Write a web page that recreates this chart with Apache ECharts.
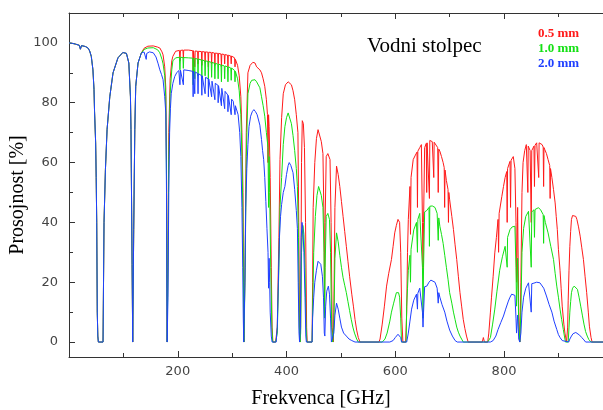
<!DOCTYPE html>
<html><head><meta charset="utf-8">
<script src="https://cdn.jsdelivr.net/npm/echarts@6/dist/echarts.min.js"></script>
<style>html,body{margin:0;padding:0;background:#fff}#c{width:603px;height:410px}</style>
</head><body><div id="c"></div>
<script>
// tick labels
const xTickLabels = [200, 400, 600, 800];
const xMinorTicks = [100, 300, 500, 700, 900];
const yTickLabels = [0, 20, 40, 60, 80, 100];
const yMinorTicks = [10, 30, 50, 70, 90];
const seriesNames = ['0.5 mm', '1.0 mm', '2.0 mm'];

// [frequency GHz, transmission %] shared by all three columns below ~133 GHz
const lowBand = [[0,100],[5,99.9],[12,99.6],[19,99.2],[21,97.9],[23,99.1],[30,98.8],[35,98.3],[38,97.3],[41,95.5],[44,91],[46,84.4],[47,77],[49,66.6],[50,55],[51,40],[52,10],[53,2],[54,0],[62.6,0],[63.5,20],[64.4,40],[67,57.7],[70,71],[75,82],[81,90],[90,95],[99,96.8],[105.6,96.5],[110,93.3],[113,82],[114,71],[116,26],[117.2,0],[117.8,0],[119,37.6],[121,71],[122.7,85.5],[127,93.3],[133,96.6]];

const red05 = [[138,98.2],[145,98.9],[155,99],[163,98.6],[167,98.3],[171,97],[173,96],[176,92],[178,85],[179.3,60],[180,20],[180.5,0],[181.2,0],[182,30],[183.5,70],[186,88],[189,94],[191,95.5],[196,97.2],[203,97.5],[204,94],[205,97.5],[209.5,97.6],[210.3,95],[211,97.6],[220,97.6],[227.5,97.4],[228.3,90],[229,97.4],[230.5,97.3],[231.3,92],[232,97.3],[236.5,97.2],[237.3,93],[238,97.2],[243.5,97.1],[244.3,92.5],[245,97.1],[249.5,97],[250.3,93.5],[251,97],[255.5,96.9],[256.3,92],[257,96.9],[261.5,96.8],[262.3,93],[263,96.8],[267.5,96.6],[268.3,92.5],[269,96.6],[273.5,96.5],[274.3,93],[275,96.5],[279.5,96.3],[280.3,92],[281,96.3],[285.5,96.1],[286.3,93],[287,96.1],[291.5,95.9],[292.3,92],[293,95.9],[297.5,95.6],[298.3,93],[299,95.6],[304.5,95],[305.3,92],[306,94.5],[310,92.5],[313,89],[316,82],[318,70],[320,50],[321,20],[321.8,0],[322.8,0],[324,30],[326,70],[329,90],[333,92.5],[338,93.5],[342,93.3],[345,92],[348,92],[351,91],[354,90],[357,88],[360,85.5],[363,81],[365,76],[366,60],[367,76],[368,72],[370,55],[372,25],[373.5,5],[375,0],[380,0],[383,5],[386,35],[388,61],[391,75],[394,83],[398,86],[403,87],[406,86.6],[409,86],[412,84],[415,81],[418,76],[421,70],[422.5,40],[424,5],[425,0],[426,5],[427.6,60],[429,74],[431,73],[433,65],[435,40],[437,5],[438,0],[447,0],[448,20],[449,45],[452,60],[455,68],[458,71],[461,71],[464,67],[467,63],[469,40],[470,10],[471,40],[473,62],[476,63],[480,61],[482,40],[484,5],[486,0],[487,10],[489,45],[492,58.8],[495,56],[498,52],[501,47],[504,42],[507,37],[510,32],[513,27],[516,22],[520,16],[523,12],[526,7.5],[529,4],[532,1.5],[535,0],[570,0],[572,1],[576,6],[580,12],[584,18.7],[588,23],[593,27.6],[596,32],[599,36.5],[602,39],[605,41],[608,40],[610,30],[612,8],[614,0],[619,0],[621,10],[622.5,30],[624,41],[627,52],[628,36],[629,55],[633,61],[637,62.5],[640,63.5],[640.8,45],[641.5,63.8],[645,65],[648,66],[650,40],[651,24],[652,40],[654,65],[657,66.4],[657.8,50],[658.5,66.6],[662,67.2],[662.8,48],[663.5,67.4],[668,67],[670,66.9],[670.8,55],[671.5,66.8],[675,66.2],[678,65],[679,50],[680,64.5],[682,63.8],[685,62],[688,60],[690,58.3],[690.8,45],[691.5,57.5],[694,54],[697,51],[697.8,40],[698.5,50],[700,47.6],[704,42],[707,37.6],[710,32.5],[713,27.6],[716,22],[719,16.5],[722,12],[725,7.6],[728,4.5],[731,2],[734,0],[760,0],[762,1.5],[764,0],[770,0],[772,3],[775,10],[777,15],[780,22],[783,29.8],[786,35],[789,41],[790,30],[791,43],[796,48.7],[799,52],[802,55],[805,57],[805.8,40],[806.5,58],[811,60.4],[812,45],[813,60.8],[817,62],[820,58],[822,40],[823,20],[825,45],[827,10],[829,0],[831,20],[833,50],[835,60],[838,64],[841,66],[843,65.8],[843.8,50],[844.5,65.5],[848,64],[850,40],[851,64],[855,65.5],[856,52],[857,65.8],[860,66.6],[863,66.6],[863.8,55],[864.5,66.6],[866,66.6],[870,66],[872,65.2],[872.8,52],[873.5,65],[875,64.3],[878,63],[881,61],[884,59],[884.8,48],[885.5,58],[888,55],[891,51],[894,46.5],[896,42],[898,37.6],[900,31],[903,24],[905,18],[907,12],[910,6],[912,3],[914,1],[915,0],[916,0],[917,5],[918,14],[919.5,24],[921,32],[922.5,37],[924,41],[926,42.3],[929,42.6],[932,42],[934,41],[937,38.5],[940,35.4],[943,31.5],[946,27.6],[949,22],[952,16.5],[955,10],[957,5.3],[960,1.5],[962,0],[982,0]];

const green10 = [[138,97.8],[145,98.3],[155,98.4],[163,97.7],[167,96.7],[171,94.5],[173,93],[176,89],[178,82],[179.3,55],[180,18],[180.5,0],[181.2,0],[182,25],[183.5,62],[186,83],[189,91],[191,94],[196,95],[203,95.2],[204,91],[205,95.2],[209.5,95.1],[210.3,91.5],[211,95.1],[220,95],[227.5,94.9],[228.3,86],[229,94.9],[230.5,94.8],[231.3,88],[232,94.8],[236.5,94.6],[237.3,89],[238,94.6],[243.5,94.3],[244.3,88.5],[245,94.3],[249.5,94],[250.3,89],[251,94],[255.5,93.8],[256.3,88],[257,93.8],[261.5,93.5],[262.3,88.5],[263,93.5],[267.5,93.2],[268.3,88],[269,93.2],[273.5,92.9],[274.3,88],[275,92.9],[279.5,92.6],[280.3,87],[281,92.6],[285.5,92.3],[286.3,88],[287,92.3],[291.5,92],[292.3,87],[293,92],[297.5,91.6],[298.3,87.5],[299,91.6],[304.5,90.8],[305.3,87],[306,90.5],[310,88],[313,84],[316,76],[318,62],[320,40],[321,15],[321.8,0],[322.8,0],[324,25],[326,62],[329,83],[333,86.5],[336,87.5],[339,88],[342,87.7],[345,87],[348,86.6],[351,85],[354,82],[357,79],[360,75.5],[363,70],[366,65],[367,45],[368,62],[369,50],[371,25],[373,5],[374.5,0],[380,0],[383,3],[386,25],[388,45],[391,55],[394,66],[397,72],[400,75],[403,76.6],[406,76],[409,73],[412,69],[415,64],[418,58],[420,52],[422,35],[423.5,5],[425,0],[426,3],[427.6,30],[430,39],[432,36],[434,25],[436,5],[437.5,0],[447,0],[448.5,15],[450,30],[453,42],[456,49],[459,52],[462,51.5],[464,49],[467,45],[469,30],[470,8],[471,25],[473,42],[476,43],[479,41],[481,30],[483,5],[485,0],[487,5],[489,28],[492,36.5],[495,33.5],[498,29],[501,25],[504,21.5],[507,19],[510,16.5],[513,13.5],[516,10.5],[519,7.6],[522,5],[525,3],[529,1],[532,0],[576,0],[581,1],[585,3],[590,7],[593,10],[597,13],[602,16.5],[606,16.5],[608,15],[610,8],[611.5,0],[620,0],[621,12],[622.5,18],[624,24],[627,29],[628,20],[629,31],[634,37.5],[639,40],[640.8,30],[641.5,41],[645,43],[648,43.5],[650,25],[651,8],[652,25],[654,43.5],[658,44],[662,45],[662.8,32],[663.5,45.4],[668,45.5],[673,45],[677,43],[679,34],[680,41.5],[682,38.7],[685,36],[688,33],[691,29],[694,25],[697,21],[700,16.5],[704,13],[707,10],[710,7.5],[713,5],[716,3.3],[719,2],[722,1],[725,0],[770,0],[775,1.5],[779,6],[783,11],[787,17],[792,24],[797,28.5],[802,32],[805.8,25],[806.5,35],[811,37.6],[815,38.5],[820,38.7],[822,25],[823,12],[825,28],[827,6],[829,0],[831,10],[833,30],[836,38],[840,42],[845,43.7],[848,43.5],[850,25],[851,43.5],[855,44.2],[856,35],[857,44.3],[860,44.8],[863,44.9],[867,44.3],[872,42.6],[872.8,33],[873.5,42.3],[876,40],[881,36.5],[886,32],[891,27.6],[894,23],[897,18.7],[900,15],[903,11],[906,7.5],[909,4.2],[911,2],[913,0],[918,0],[919.5,5],[921,10],[922.5,13.5],[924,16.5],[926,18],[929,18.7],[932,18.5],[935,17.6],[938,15],[941,12],[944,9],[947,6],[950,3.5],[953,2],[956,0.8],[960,0],[982,0]];

const blue20 = [[138,97],[141,96.5],[142,94.5],[143,96.5],[148,97],[155,96.7],[160,95.3],[164,93],[167,91],[170,89.5],[173,87.7],[176,82],[178,76.6],[179.3,50],[180,12],[180.5,0],[181.2,0],[182,15],[183.5,50],[185,70],[186.5,78],[188,83],[191,86.5],[194.5,88.8],[198,90],[202,90.8],[204,86],[205,90.9],[208,91],[210.3,86],[211,91],[213,91],[219,90.8],[227.5,90.5],[228.3,82],[229,90.5],[231.3,83],[232,90.3],[236.5,89.8],[237.3,83],[238,89.7],[243.5,89.1],[244.3,82.5],[245,89],[247,88.8],[250.3,83],[251,88.5],[256,88],[256.3,82],[257,87.9],[262.3,82],[263,87.2],[265,87],[268.3,81],[269,86.5],[274,85.8],[274.3,80],[275,85.7],[280.3,79],[281,84.8],[283,84.4],[286.3,78],[287,83.8],[292,82.6],[292.3,77],[293,82.4],[298.3,76],[299,81.2],[302,80.5],[305.3,76],[306,79],[311,76],[314,70],[316,62],[318,45],[319.5,25],[320.5,8],[321.4,0],[322.5,0],[323.5,20],[325,45],[327,58],[329,66],[331,72],[334,75.5],[337,77],[340,77.7],[343,77],[346,76],[348,75.5],[351,72.5],[354,67.7],[356,64],[358,61],[360,55],[362,47],[364,38],[366,30],[367,18],[368,28],[369,20],[370,10],[372,2],[373.5,0],[381,0],[383,5],[385,20],[387,35],[389,42],[391,46],[394,50],[397,52],[400,56],[403,59],[405,60],[408,59],[412,56.6],[415,51],[418,44],[420,38],[421.5,20],[423,3],[424,0],[425.5,5],[427,35],[428.5,40],[430,38],[432,30],[434,15],[435.5,2],[436.5,0],[447,0],[448,8],[450,15],[452,20],[455,24],[458,27],[460,27.6],[463,26],[466,22],[468,15],[469.5,3],[470.5,2],[472,12],[474,17],[477,18.7],[479,16],[481,8],[482.5,0],[485,0],[487,3],[489,9],[492,13],[495,11],[498,8],[501,5],[505,3],[510,2],[515,1],[520,0.5],[526,0],[590,0],[596,0.5],[600,1.5],[605,2.6],[608,2.6],[610,1.5],[611.5,0],[621,0],[622,1],[624,3],[627,7],[630,11],[634,14],[639,16],[640.8,11],[641.5,16.3],[645,18],[648,18.5],[650,10],[651,5],[652,10],[654,18.5],[658,18.7],[662,20],[665.5,20.7],[669,20.5],[673,20],[677,18],[679,13],[680,16.5],[682,15],[686,12.5],[691,10],[695,7],[700,4],[705,2],[710,0.5],[714,0],[775,0],[780,0.5],[785,2],[789,4.2],[794,6.5],[799,8.7],[803,11],[808,13.7],[811,15],[814,16],[817,16],[820,15.6],[822,8],[823,3],[825,9],[827,1],[829,0],[831,3],[833,10],[836,15],[840,18],[845,19.8],[848,19.5],[850,10],[851,19.5],[855,19.7],[860,20],[863,20],[866,19.8],[869,19.5],[873,18],[878,15.4],[883,12.5],[888,10],[892,7],[897,4.2],[900,2.5],[903,1.5],[907,0.5],[910,0],[919,0],[921,1],[924,2],[927,2.8],[929,3.1],[932,3.2],[935,3],[939,2.3],[943,1.5],[947,0.7],[950,0],[982,0]];

const colors = ['#ff1a1a', '#14e014', '#1f3fff'];
const chart = echarts.init(document.getElementById('c'), null, {renderer: 'canvas'});
const axisLineStyle = {color: '#333', width: 1};
const labelStyle = {fontFamily: 'DejaVu Sans', fontSize: 13, color: '#444'};
const X_MIN = 0, X_MAX = 982, Y_MIN = -5, Y_MAX = 110;

function xAxisDef(pos, major, showLine, showLabel) {
  return {
    type: 'value', position: pos, min: X_MIN, max: X_MAX,
    axisLine: {show: showLine, onZero: false, lineStyle: axisLineStyle},
    axisTick: {show: true, inside: true, length: major ? 6 : 4, customValues: major ? xTickLabels : xMinorTicks, lineStyle: axisLineStyle},
    axisLabel: {show: showLabel, customValues: xTickLabels, margin: 8, ...labelStyle},
    splitLine: {show: false}
  };
}
function yAxisDef(major) {
  return {
    type: 'value', position: 'left', min: Y_MIN, max: Y_MAX,
    axisLine: {show: major, onZero: false, lineStyle: axisLineStyle},
    axisTick: {show: true, inside: true, length: major ? 6 : 4, customValues: major ? yTickLabels : yMinorTicks, lineStyle: axisLineStyle},
    axisLabel: {show: major, customValues: yTickLabels, margin: 11, ...labelStyle},
    splitLine: {show: false}
  };
}

const dataSets = [lowBand.concat(red05), lowBand.concat(green10), lowBand.concat(blue20)];

chart.setOption({
  animation: false,
  grid: {left: 69, right: 0, top: 13, bottom: 53, containLabel: false},
  xAxis: [xAxisDef('bottom', true, true, true), xAxisDef('bottom', false, false, false),
          xAxisDef('top', true, true, false), xAxisDef('top', false, false, false)],
  yAxis: [yAxisDef(true), yAxisDef(false)],
  series: dataSets.map((d, i) => ({
    name: seriesNames[i], type: 'line', data: d, xAxisIndex: 0, yAxisIndex: 0,
    showSymbol: false, symbol: 'none', smooth: false,
    lineStyle: {color: colors[i], width: 1}, z: 2 + i
  })),
  graphic: [
    {type: 'text', left: 367, top: 36, style: {text: 'Vodni stolpec', font: '21px "Liberation Serif"', fill: '#000'}},
    {type: 'text', left: 538, top: 27.5, style: {text: seriesNames[0], font: 'bold 13px "Liberation Serif"', fill: colors[0]}},
    {type: 'text', left: 538, top: 42.5, style: {text: seriesNames[1], font: 'bold 13px "Liberation Serif"', fill: colors[1]}},
    {type: 'text', left: 538, top: 57, style: {text: seriesNames[2], font: 'bold 13px "Liberation Serif"', fill: colors[2]}},
    {type: 'text', x: 321, y: 399, style: {text: 'Frekvenca [GHz]', font: '20px "Liberation Serif"', fill: '#000', align: 'center', verticalAlign: 'middle'}},
    {type: 'text', x: 18, y: 195, rotation: Math.PI / 2, style: {text: 'Prosojnost [%]', font: '20px "Liberation Serif"', fill: '#000', align: 'center', verticalAlign: 'middle'}}
  ]
});
</script>
</body></html>
